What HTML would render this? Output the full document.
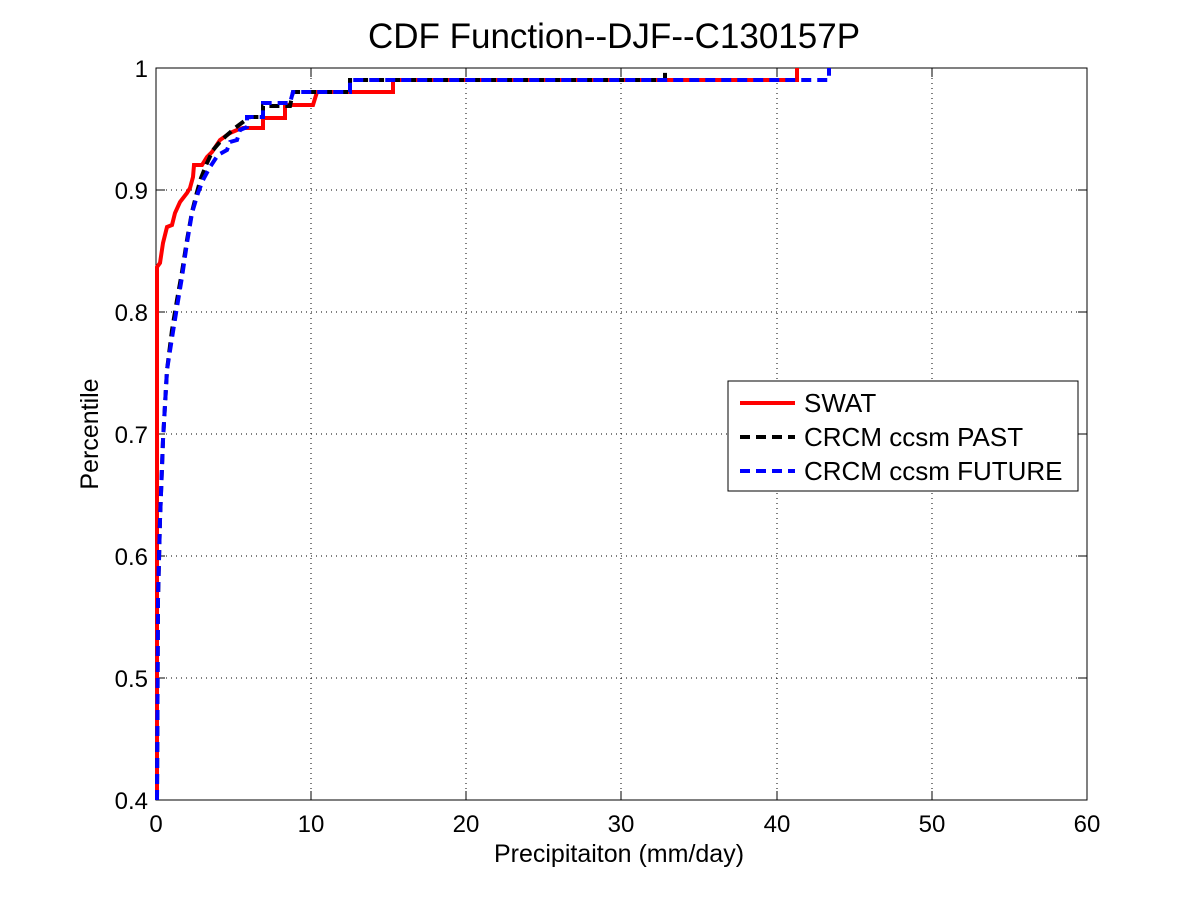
<!DOCTYPE html>
<html><head><style>
body{margin:0;background:#fff;}
svg text{font-family:"Liberation Sans",sans-serif;}
</style></head><body>
<svg width="1200" height="900" viewBox="0 0 1200 900">
<rect width="1200" height="900" fill="#fff"/>
<rect x="156" y="68" width="931" height="732" fill="#fff" stroke="#000" stroke-width="1"/>
<g stroke="#000" stroke-width="1" stroke-dasharray="1,4">
<line x1="311" y1="68" x2="311" y2="800"/><line x1="466" y1="68" x2="466" y2="800"/>
<line x1="621" y1="68" x2="621" y2="800"/><line x1="777" y1="68" x2="777" y2="800"/>
<line x1="932" y1="68" x2="932" y2="800"/>
<line x1="156" y1="190" x2="1087" y2="190"/><line x1="156" y1="312" x2="1087" y2="312"/>
<line x1="156" y1="434" x2="1087" y2="434"/><line x1="156" y1="556" x2="1087" y2="556"/>
<line x1="156" y1="678" x2="1087" y2="678"/>
</g>
<g stroke="#000" stroke-width="1">
<line x1="311" y1="800" x2="311" y2="791"/><line x1="466" y1="800" x2="466" y2="791"/><line x1="621" y1="800" x2="621" y2="791"/><line x1="777" y1="800" x2="777" y2="791"/><line x1="932" y1="800" x2="932" y2="791"/>
<line x1="311" y1="68" x2="311" y2="77"/><line x1="466" y1="68" x2="466" y2="77"/><line x1="621" y1="68" x2="621" y2="77"/><line x1="777" y1="68" x2="777" y2="77"/><line x1="932" y1="68" x2="932" y2="77"/>
<line x1="156" y1="190" x2="165" y2="190"/><line x1="156" y1="312" x2="165" y2="312"/><line x1="156" y1="434" x2="165" y2="434"/><line x1="156" y1="556" x2="165" y2="556"/><line x1="156" y1="678" x2="165" y2="678"/>
<line x1="1087" y1="190" x2="1078" y2="190"/><line x1="1087" y1="312" x2="1078" y2="312"/><line x1="1087" y1="434" x2="1078" y2="434"/><line x1="1087" y1="556" x2="1078" y2="556"/><line x1="1087" y1="678" x2="1078" y2="678"/>
</g>
<g fill="none" stroke-width="4">
<polyline stroke="#f00" points="157,800 157,267 160,263 163,243 167,227 172,225 175,213 180,202 187,193 190,188 193,177 194,165 202,165 207,157 212,152 220,140 230,133 237,130 243,128 263,128 263,118 285,118 285,105 313,105 317,92 393,92 393,80 797,80 797,68"/>
<polyline stroke="#000" stroke-dasharray="10,6" points="157,800 158,600 160,520 163,440 167,370 172,330 177,300 182,272 187,240 192,212 197,192 201,178 207,163 213,150 220,142 226,136 235,128 243,122 250,117 263,117 263,106 290,106 293,92 350,92 350,80 665,80 665,68"/>
<polyline stroke="#00f" stroke-dasharray="10,6" points="157,800 158,600 160,520 163,440 167,370 172,338 177,307 182,277 187,243 192,213 198,193 203,180 210,167 218,155 227,150 230,142 237,140 240,130 247,127 247,117 263,117 263,103 290,103 293,92 350,92 350,80 829,80 829,68"/>
</g>
<g font-size="24" fill="#000">
<text x="156" y="832" text-anchor="middle">0</text><text x="311" y="832" text-anchor="middle">10</text><text x="466" y="832" text-anchor="middle">20</text><text x="621" y="832" text-anchor="middle">30</text><text x="777" y="832" text-anchor="middle">40</text><text x="932" y="832" text-anchor="middle">50</text><text x="1087" y="832" text-anchor="middle">60</text>
<text x="148" y="77" text-anchor="end">1</text><text x="148" y="199" text-anchor="end">0.9</text><text x="148" y="321" text-anchor="end">0.8</text><text x="148" y="443" text-anchor="end">0.7</text><text x="148" y="565" text-anchor="end">0.6</text><text x="148" y="687" text-anchor="end">0.5</text><text x="148" y="809" text-anchor="end">0.4</text>
</g>
<g font-size="25" fill="#000">
<text x="619" y="862" text-anchor="middle">Precipitaiton (mm/day)</text>
<text transform="translate(98,434) rotate(-90)" text-anchor="middle">Percentile</text>
</g>
<text x="614" y="48" font-size="35" text-anchor="middle">CDF Function--DJF--C130157P</text>
<rect x="728" y="381" width="350" height="110" fill="#fff" stroke="#000" stroke-width="1"/>
<line x1="740" y1="403" x2="795" y2="403" stroke="#f00" stroke-width="4"/>
<line x1="740" y1="437" x2="795" y2="437" stroke="#000" stroke-width="4" stroke-dasharray="10,6"/>
<line x1="740" y1="471" x2="795" y2="471" stroke="#00f" stroke-width="4" stroke-dasharray="10,6"/>
<g font-size="26"><text x="804" y="412">SWAT</text><text x="804" y="446">CRCM ccsm PAST</text><text x="804" y="480">CRCM ccsm FUTURE</text></g>
</svg>
</body></html>
